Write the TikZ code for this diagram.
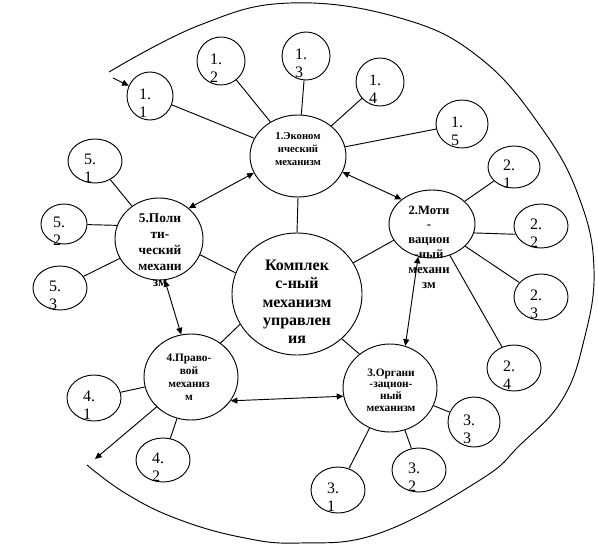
\documentclass[tikz,border=0pt]{standalone}
\usepackage{fontspec}
\setmainfont{Liberation Serif}
\usetikzlibrary{shapes.geometric,arrows.meta}

\begin{document}
\begin{tikzpicture}[x=0.75pt, y=-0.75pt, line width=0.7pt,
    oval/.style 2 args={draw, ellipse, inner sep=0pt,
                minimum width=#1*1.5pt, minimum height=#2*1.5pt},
    ttl/.style 2 args={inner sep=0pt, align=center,
                font=\fontsize{#1}{#2}\selectfont\bfseries},
    num/.style={inner sep=0pt, align=left, font=\fontsize{12}{13.5}\selectfont,
                xshift=-3.75pt, yshift=-5.25pt},
    arr/.style={-{Triangle[length=5pt,width=4.5pt]}},
    dbl/.style={{Triangle[length=5pt,width=4.5pt]}-{Triangle[length=5pt,width=4.5pt]}},
]
\useasboundingbox (0,0) rectangle (598,546);

\node[oval={65}{61}] (core) at (297,294) {};
\node[ttl={12}{13.7}] (coret) at (297,302) {Комплек\\с-ный\\механизм\\управлен\\ия};

\node[oval={48}{41}] (n1) at (298,156) {};
\node[ttl={8}{10}]   (n1t) at (298,149) {1.Эконом\\ический\\механизм};
\node[oval={43}{34}] (n2) at (432,224) {};
\node[ttl={9.5}{11.1}] (n2t) at (429,247) {2.Моти\\-\\вацион\\-ный\\механи\\зм};
\node[oval={47}{44}] (n3) at (390,388) {};
\node[ttl={8.5}{8.8}] (n3t) at (391,390) {3.Органи\\-зацион-\\ный\\механизм};
\node[oval={47}{43}] (n4) at (191,377) {};
\node[ttl={8.5}{9.75}] (n4t) at (189,377) {4.Право-\\вой\\механиз\\м};
\node[oval={44}{41}] (n5) at (159,239) {};
\node[ttl={10}{12}]  (n5t) at (160,250) {5.Поли\\ти-\\ческий\\механи\\зм};

\node[oval={23}{24}] (s11) at (150,96)  {};
\node[num] (s11t) at (s11) {1.\\1};
\node[oval={24}{24}] (s12) at (221,61)  {};
\node[num] (s12t) at (s12) {1.\\2};
\node[oval={24}{24}] (s13) at (306,56)  {};
\node[num] (s13t) at (s13) {1.\\3};
\node[oval={24}{24}] (s14) at (380,82)  {};
\node[num] (s14t) at (s14) {1.\\4};
\node[oval={26}{24}] (s15) at (462,124) {};
\node[num] (s15t) at (s15) {1.\\5};

\node[oval={26}{21}] (s21) at (514,167) {};
\node[num] (s21t) at (s21) {2.\\1};
\node[oval={27}{22}] (s22) at (541,226) {};
\node[num] (s22t) at (s22) {2.\\2};
\node[oval={27}{23}] (s23) at (541,297) {};
\node[num] (s23t) at (s23) {2.\\3};
\node[oval={27}{23}] (s24) at (514,368) {};
\node[num] (s24t) at (s24) {2.\\4};

\node[oval={27}{23}] (s31) at (338,490) {};
\node[num] (s31t) at (s31) {3.\\1};
\node[oval={27}{22}] (s32) at (419,470) {};
\node[num] (s32t) at (s32) {3.\\2};
\node[oval={26}{25}] (s33) at (474,422) {};
\node[num] (s33t) at (s33) {3.\\3};

\node[oval={27}{23}] (s41) at (94,398)  {};
\node[num] (s41t) at (s41) {4.\\1};
\node[oval={27}{22}] (s42) at (163,460) {};
\node[num] (s42t) at (s42) {4.\\2};

\node[oval={27}{22}] (s51) at (95,161)  {};
\node[num] (s51t) at (s51) {5.\\1};
\node[oval={23}{20}] (s52) at (64,224)  {};
\node[num] (s52t) at (s52) {5.\\2};
\node[oval={27}{22}] (s53) at (60,288)  {};
\node[num] (s53t) at (s53) {5.\\3};

\coordinate (inp)  at (113,78);
\coordinate (outp) at (95,459);

\draw (core.90)  -- (n1.270);
\draw (core.29)  -- (n2.203);
\draw (core.-45) -- (n3.132);
\draw (core.208) -- (n4.49);
\draw (core.161) -- (n5.-21);

\draw[dbl] (n5.46)   -- (n1.201);
\draw[dbl] (n1.-20)  -- (n2.141);
\draw[dbl] (n2.-113) -- (n3.70);
\draw[dbl] (n3.190)  -- (n4.-31);
\draw[dbl] (n5.-82)  -- (n4.103);

\draw (n1) -- (s11);
\draw (n1) -- (s12);
\draw (n1) -- (s13);
\draw (n1) -- (s14);
\draw (n1) -- (s15);
\draw (n2) -- (s21);
\draw (n2.-12) -- (s22.198);
\draw (n2) -- (s23);
\draw (n2) -- (s24);
\draw (n3) -- (s31);
\draw (n3) -- (s32);
\draw (n3) -- (s33);
\draw (n4) -- (s41);
\draw (n4) -- (s42);
\draw (n5) -- (s51);
\draw (s52) -- (n5.162);
\draw (n5) -- (s53);

\draw[arr] (inp) -- (s11);
\draw[arr] (n4.221) -- (outp);

\draw plot[smooth, tension=0.7] coordinates {(109,72) (200,25) (290,3) (400,18)
    (480,58) (543,130) (580,200) (594,270) (584,340) (562,400) (520,445)
    (480,480) (380,533) (300,543) (240,537) (175,518) (125,493) (87,465)};
\end{tikzpicture}
\end{document}
